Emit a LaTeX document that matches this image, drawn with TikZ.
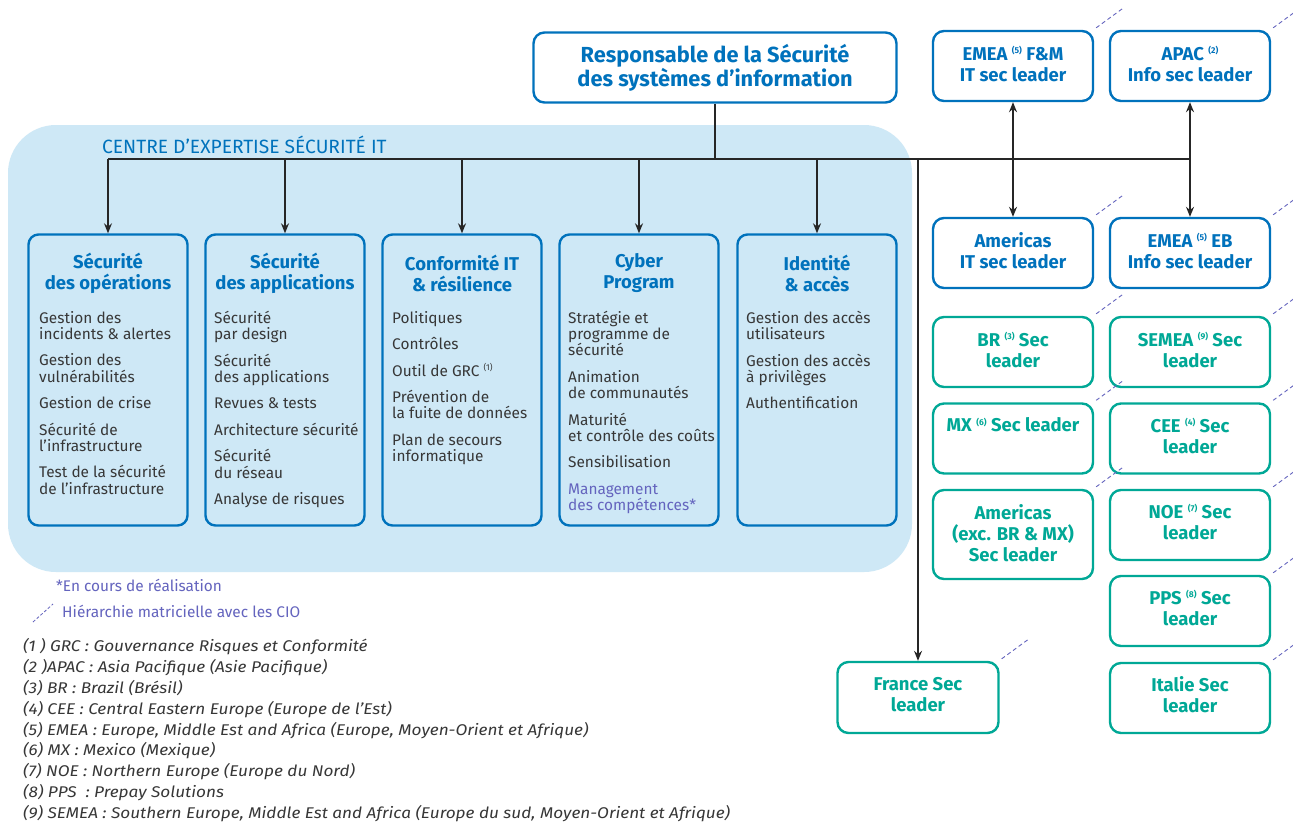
\documentclass[tikz,border=0pt]{standalone}
\usepackage{fontspec}
\setmainfont{Fira Sans}
\usetikzlibrary{arrows.meta}
\definecolor{cblue}{RGB}{0,114,188}
\definecolor{bgblue}{RGB}{206,232,246}
\definecolor{cgreen}{RGB}{0,168,150}
\definecolor{cpurple}{RGB}{100,100,190}
\definecolor{ctext}{RGB}{55,55,55}
\newcommand{\fnr}[1]{\raisebox{0.36em}{\fontsize{8.5}{8.5}\selectfont(#1)}}
\newcommand{\ttlfont}{\fontsize{18.5}{21}\selectfont\bfseries}
\newcommand{\itmfont}{\fontsize{15.4}{16.2}\selectfont}
\newcommand{\ft}[1]{\scalebox{1.11}[1]{#1}}
\begin{document}
\begin{tikzpicture}[x=1pt,y=-1pt,
  bluebox/.style={draw=cblue, line width=2.4pt, rounded corners=11pt, fill=white, minimum width=160pt, minimum height=70pt, inner sep=0pt},
  greenbox/.style={draw=cgreen, line width=2.4pt, rounded corners=11pt, fill=white, minimum width=160pt, minimum height=70pt, inner sep=0pt},
  colbox/.style={draw=cblue, line width=2.4pt, rounded corners=10pt, minimum width=159pt, minimum height=291pt, inner sep=0pt},
  btitle/.style={text=cblue, font=\ttlfont, align=center, inner sep=0pt},
  gtitle/.style={text=cgreen, font=\ttlfont, align=center, inner sep=0pt},
  items/.style={text=ctext, font=\itmfont, align=left, anchor=north west, inner sep=0pt},
  arr/.style={draw=black!85, line width=1.2pt, -{Stealth[length=10pt,width=8pt]}},
  arrtwo/.style={draw=black!85, line width=1.2pt, {Stealth[length=10pt,width=8pt]}-{Stealth[length=10pt,width=8pt]}},
  bus/.style={draw=black!85, line width=1.2pt},
  mline/.style={draw=cpurple, line width=0.9pt, dash pattern=on 4pt off 3pt},
  foot/.style={text=ctext, font=\fontsize{15.5}{20.9}\selectfont\itshape, anchor=base west, inner sep=0pt}
]
\useasboundingbox (0,0) rectangle (1293,823);
\clip (0,0) rectangle (1293,823);
\fill[white] (0,0) rectangle (1293,823);
% background zone
\fill[bgblue, rounded corners=48pt] (8,125) rectangle (912,572);
\node[text=cblue, font=\fontsize{19.2}{19.2}\selectfont, anchor=west, inner sep=0pt] (centre) at (102,145) {CENTRE D’EXPERTISE SÉCURITÉ IT};

% root
\node[bluebox, minimum width=363pt, minimum height=70pt] (root) at (715,67.5) {};
\node[btitle, font=\fontsize{21.8}{23}\selectfont\bfseries] (roott) at (715,68) {Responsable de la Sécurité\\des systèmes d’information};

% columns
\node[colbox] (c1) at (108,380) {};
\node[colbox] (c2) at (285,380) {};
\node[colbox] (c3) at (462,380) {};
\node[colbox] (c4) at (639,380) {};
\node[colbox] (c5) at (817,380) {};

\node[btitle] (t1) at (108,273) {Sécurité\\des opérations};
\node[btitle] (t2) at (285,273) {Sécurité\\des applications};
\node[btitle] (t3) at (462,273) {Conformité IT\\\& résilience};
\node[btitle] (t4) at (639,273) {Cyber\\Program};
\node[btitle] (t5) at (817,273) {Identité\\\& accès};

\node[items] (i1) at (39,311) {Gestion des\\ incidents \& alertes\\[10.3pt]Gestion des\\vulnérabilités\\[10.3pt]Gestion de crise\\[10.3pt]Sécurité de\\l’infrastructure\\[10.3pt]Test de la sécurité\\de l’infrastructure};
\node[items] (i2) at (214,311) {Sécurité\\par design\\[10.3pt]Sécurité\\des applications\\[10.3pt]Revues \& tests\\[10.3pt]Architecture sécurité\\[10.3pt]Sécurité\\du réseau\\[10.3pt]Analyse de risques};
\node[items] (i3) at (392,311) {Politiques\\[10.3pt]Contrôles\\[10.3pt]Outil de GRC \fnr{1}\\[10.3pt]Prévention de\\la fuite de données\\[10.3pt]Plan de secours\\informatique};
\node[items] (i4) at (568,311) {Stratégie et\\programme de\\sécurité\\[10.3pt]Animation\\de communautés\\[10.3pt]Maturité\\et contrôle des coûts\\[10.3pt]Sensibilisation\\[10.3pt]\textcolor{cpurple}{Management}\\\textcolor{cpurple}{des compétences*}};
\node[items] (i5) at (746,311) {Gestion des accès\\utilisateurs\\[10.3pt]Gestion des accès\\à privilèges\\[10.3pt]Authentification};

% right boxes
\node[bluebox] (emeafm) at (1013,66) {};
\node[bluebox] (apac) at (1190,66) {};
\node[bluebox] (amit) at (1013,253) {};
\node[bluebox] (emeaeb) at (1190,253) {};
\node[btitle] (emeafmt) at (1013,64) {EMEA \fnr{5} F\&M\\IT sec leader};
\node[btitle] (apact) at (1190,64) {APAC \fnr{2}\\Info sec leader};
\node[btitle] (amitt) at (1013,251) {Americas\\IT sec leader};
\node[btitle] (emeaebt) at (1190,251) {EMEA \fnr{5} EB\\Info sec leader};

\node[greenbox] (br) at (1013,352) {};
\node[greenbox] (mx) at (1013,438.5) {};
\node[greenbox, minimum height=89pt] (amx) at (1013,534.5) {};
\node[greenbox] (semea) at (1190,352) {};
\node[greenbox] (cee) at (1190,438.5) {};
\node[greenbox] (noe) at (1190,525) {};
\node[greenbox] (pps) at (1190,611) {};
\node[greenbox] (ital) at (1190,698) {};
\node[greenbox, minimum width=161pt, minimum height=71pt] (fr) at (918,697.5) {};

\node[gtitle] (brt) at (1013,350) {BR \fnr{3} Sec\\leader};
\node[gtitle] (mxt) at (1013,425) {MX \fnr{6} Sec leader};
\node[gtitle] (amxt) at (1013,533) {Americas\\(exc. BR \& MX)\\Sec leader};
\node[gtitle] (semeat) at (1190,350) {SEMEA \fnr{9} Sec\\leader};
\node[gtitle] (ceet) at (1190,436) {CEE \fnr{4} Sec\\leader};
\node[gtitle] (noet) at (1190,522) {NOE \fnr{7} Sec\\leader};
\node[gtitle] (ppst) at (1190,608) {PPS \fnr{8} Sec\\leader};
\node[gtitle] (italt) at (1190,695) {Italie Sec\\leader};
\node[gtitle] (frt) at (918,695) {France Sec\\leader};

% connectors
\coordinate (busL) at (108,159);
\coordinate (busR) at (1190,159);
\draw[bus] (root.south) -- (root.south |- busL);
\draw[bus] (busL) -- (busR);
\foreach \c in {c1,c2,c3,c4,c5} {\draw[arr] (\c.north |- busL) -- (\c.north);}
\draw[arr] (fr.north |- busL) -- (fr.north);
\draw[arrtwo] (emeafm.south) -- (amit.north);
\draw[arrtwo] (apac.south) -- (emeaeb.north);

% matrix (dashed) lines
\foreach \b in {emeafm,apac,amit,emeaeb,br,mx,amx,semea,cee,noe,pps,ital,fr} {
  \draw[mline] ([shift={(2,-2)}]\b.north east) -- ++(26,-19);
}

% legend
\node[text=cpurple, font=\fontsize{15.4}{15.4}\selectfont, anchor=west, inner sep=0pt] (leg1) at (56,585) {*En cours de réalisation};
\coordinate (legA) at (33,622);
\coordinate (legB) at (53,604);
\draw[mline, line width=0.8pt, dash pattern=on 3pt off 2pt] (legA) -- (legB);
\node[text=cpurple, font=\fontsize{15.4}{15.4}\selectfont, anchor=west, inner sep=0pt] (leg2) at (62,611) {Hiérarchie matricielle avec les CIO};

% footnotes
\node[foot] (f1) at (23,651) {\ft{(1 ) GRC : Gouvernance Risques et Conformité}};
\node[foot] (f2) at (23,672) {\ft{(2 )APAC : Asia Pacifique (Asie Pacifique)}};
\node[foot] (f3) at (23,693) {\ft{(3) BR : Brazil (Brésil)}};
\node[foot] (f4) at (23,714) {\ft{(4) CEE : Central Eastern Europe (Europe de l’Est)}};
\node[foot] (f5) at (23,735) {\ft{(5) EMEA : Europe, Middle Est and Africa (Europe, Moyen-Orient et Afrique)}};
\node[foot] (f6) at (23,755) {\ft{(6) MX : Mexico (Mexique)}};
\node[foot] (f7) at (23,776) {\ft{(7) NOE : Northern Europe (Europe du Nord)}};
\node[foot] (f8) at (23,797) {\ft{(8) PPS~ : Prepay Solutions}};
\node[foot] (f9) at (23,818) {\ft{(9) SEMEA : Southern Europe, Middle Est and Africa (Europe du sud, Moyen-Orient et Afrique)}};
\end{tikzpicture}
\end{document}
